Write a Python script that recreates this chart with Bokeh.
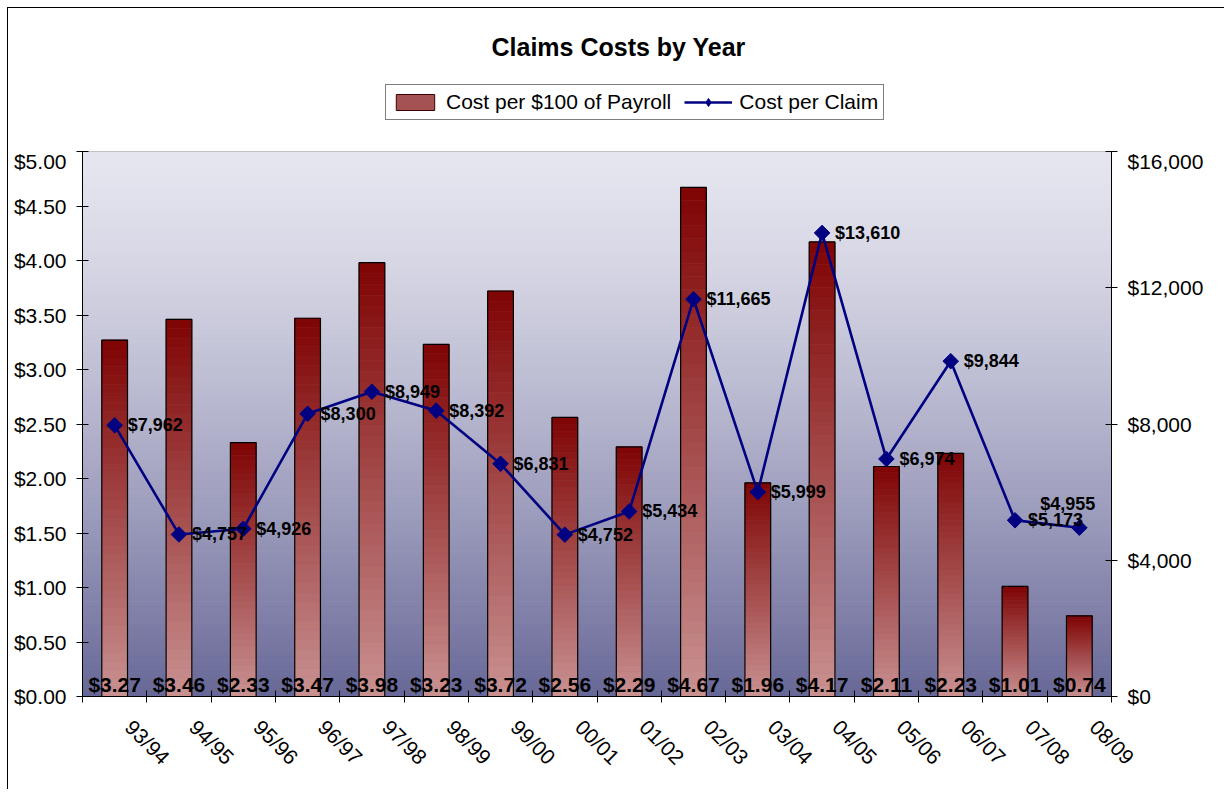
import numpy as np
from bokeh.plotting import figure
from bokeh.layouts import column
from bokeh.models import (Range1d, LinearAxis, FixedTicker, ColumnDataSource,
                          NumeralTickFormatter, Legend, LegendItem, Label)
from bokeh.core.properties import value
from bokeh.embed import file_html
from bokeh.resources import INLINE

# ---- data ----
years = ["93/94", "94/95", "95/96", "96/97", "97/98", "98/99", "99/00", "00/01",
         "01/02", "02/03", "03/04", "04/05", "05/06", "06/07", "07/08", "08/09"]
cost_per_100 = [3.27, 3.46, 2.33, 3.47, 3.98, 3.23, 3.72, 2.56,
                2.29, 4.67, 1.96, 4.17, 2.11, 2.23, 1.01, 0.74]
cost_per_claim = [7962, 4757, 4926, 8300, 8949, 8392, 6831, 4752,
                  5434, 11665, 5999, 13610, 6974, 9844, 5173, 4955]
left_ticks = [0, 0.5, 1.0, 1.5, 2.0, 2.5, 3.0, 3.5, 4.0, 4.5, 5.0]
right_ticks = [0, 4000, 8000, 12000, 16000]

FONT = "Liberation Sans"
n = len(years)
centers = [i + 0.5 for i in range(n)]
bounds = [float(i) for i in range(n + 1)]
src = ColumnDataSource(dict(x=centers, pay=cost_per_100, claim=cost_per_claim))

W = 1216
HH = 141          # header (title + legend)
HM = 640          # main chart
ML, MR, MT, MB = 74, 113, 2, 93

p = figure(width=W, height=HM, output_backend="svg", toolbar_location=None,
           x_range=Range1d(0, n), y_range=Range1d(left_ticks[0], left_ticks[-1]),
           min_border_left=ML, min_border_right=MR, min_border_top=MT,
           min_border_bottom=MB, x_axis_type=None, y_axis_type=None)
p.extra_y_ranges = {"right": Range1d(right_ticks[0], right_ticks[-1])}
p.grid.visible = False
p.outline_line_color = "#808080"
p.background_fill_color = "white"
p.border_fill_color = "white"

# ---- background gradient in plot area ----
NS = 120
top_c = np.array([230, 230, 240])
bot_c = np.array([104, 104, 152])
ys = np.linspace(left_ticks[0], left_ticks[-1], NS + 1)
bg_cols = []
for k in range(NS):
    t = 1 - (k + 0.5) / NS  # 0 at top, 1 at bottom
    f = t ** 1.3
    c = (top_c + (bot_c - top_c) * f).astype(int)
    bg_cols.append("#%02x%02x%02x" % tuple(c))
p.quad(left=0, right=n, bottom=ys[:-1], top=ys[1:], fill_color=bg_cols,
       line_color=bg_cols, line_width=1)

# ---- bars with vertical gradient ----
NB = 40
dark = np.array([128, 4, 4])
pink = np.array([202, 146, 146])
bl, br, bb, bt, bc = [], [], [], [], []
for xc, v in zip(centers, cost_per_100):
    for k in range(NB):
        y0 = v * k / NB
        y1 = v * (k + 1) / NB
        t = 1 - (k + 0.5) / NB  # 0 top, 1 bottom
        c = (dark + (pink - dark) * t).astype(int)
        bl.append(xc - 0.2); br.append(xc + 0.2)
        bb.append(y0); bt.append(y1)
        bc.append("#%02x%02x%02x" % tuple(c))
p.quad(left=bl, right=br, bottom=bb, top=bt, fill_color=bc, line_color=bc,
       line_width=0.6)
p.vbar(x="x", top="pay", width=0.4, source=src, fill_color=None, line_color="black",
       line_width=1.2)

# bar labels
p.text(x=centers, y=[0] * n, text=["$%.2f" % v for v in cost_per_100],
       text_align="center", text_baseline="alphabetic", y_offset=-12,
       text_font=value(FONT), text_font_style="bold", text_font_size="21px",
       text_color="black")

# ---- line ----
LINE_C = "#000080"
p.line(x="x", y="claim", source=src, y_range_name="right", line_color=LINE_C,
       line_width=2.6)
p.scatter(x="x", y="claim", source=src, y_range_name="right", marker="square",
          angle=np.pi / 4, size=11, fill_color=LINE_C, line_color=LINE_C)
# last label would be cut by the frame edge: place it above-left of its marker
lab_align = ["left"] * (n - 1) + ["right"]
lab_dx = [13] * (n - 1) + [16]
lab_dy = [0] * (n - 1) + [-24]
p.text(x=centers, y=cost_per_claim, y_range_name="right",
       text=["${:,}".format(v) for v in cost_per_claim],
       text_align=lab_align, text_baseline="middle", x_offset=lab_dx, y_offset=lab_dy,
       text_font=value(FONT), text_font_style="bold", text_font_size="18px",
       text_color="black")

# ---- axes ----
def style_axis(ax):
    ax.major_label_text_font = FONT
    ax.major_label_text_font_size = "21px"
    ax.major_label_text_color = "black"
    ax.axis_line_color = "black"
    ax.major_tick_line_color = "black"
    ax.minor_tick_line_color = None
    ax.major_tick_in = 6
    ax.major_tick_out = 6

yl = LinearAxis(ticker=FixedTicker(ticks=left_ticks),
                formatter=NumeralTickFormatter(format="$0.00"))
style_axis(yl)
yl.major_label_standoff = 10
p.add_layout(yl, "left")

yr = LinearAxis(y_range_name="right", ticker=FixedTicker(ticks=right_ticks),
                formatter=NumeralTickFormatter(format="$0,0"))
style_axis(yr)
yr.major_label_standoff = 10
p.add_layout(yr, "right")

# rotated category labels hang slightly right of each category centre
label_pos = [c + 0.22 for c in centers]
xa = LinearAxis(ticker=FixedTicker(ticks=label_pos, minor_ticks=bounds))
style_axis(xa)
xa.major_tick_line_color = None
xa.minor_tick_line_color = "black"
xa.minor_tick_in = 6
xa.minor_tick_out = 6
xa.major_label_overrides = {c: y for c, y in zip(label_pos, years)}
xa.major_label_orientation = -np.pi / 4
xa.major_label_standoff = 21
p.add_layout(xa, "below")

# ---- header: title + legend ----
h = figure(width=W, height=HH, output_backend="svg", toolbar_location=None,
           x_range=p.x_range, y_range=Range1d(6, 7),
           min_border=0, x_axis_type=None, y_axis_type=None)
h.grid.visible = False
h.outline_line_color = None
h.background_fill_color = "white"
h.border_fill_color = "white"
# legend swatches use the same data, which lies below the header's visible range
leg_bar = h.vbar(x="x", top="pay", width=0.4, source=src, fill_color="#a45252",
                 line_color="#3a0000", line_width=1)
leg_ln = h.line(x="x", y="pay", source=src, line_color=LINE_C, line_width=2.6)
leg_mk = h.scatter(x="x", y="pay", source=src, marker="diamond", size=18,
                   fill_color=LINE_C, line_color=LINE_C)
legend = Legend(items=[LegendItem(label="Cost per $100 of Payroll", renderers=[leg_bar]),
                       LegendItem(label="Cost per Claim", renderers=[leg_ln, leg_mk])],
                orientation="horizontal", location=(303, 29),
                border_line_color="black", border_line_width=1,
                background_fill_color="white", background_fill_alpha=1,
                label_text_font=FONT, label_text_font_size="21px",
                label_text_color="black", glyph_width=48, glyph_height=20,
                label_height=20, label_standoff=7, spacing=13, padding=5,
                margin=0)
h.add_layout(legend, "center")
h.add_layout(Label(x=409, y=HH - 24, x_units="screen", y_units="screen",
                   text="Claims Costs by Year", text_font=FONT, text_font_size="25px",
                   text_font_style="bold", text_color="black",
                   text_align="left", text_baseline="top"))

lay = column(h, p, spacing=0)
lay.styles = {"border-left": "1px solid black", "border-top": "1px solid black",
              "margin-left": "7px", "margin-top": "7px"}

open("out.html", "w").write(file_html(lay, INLINE))
